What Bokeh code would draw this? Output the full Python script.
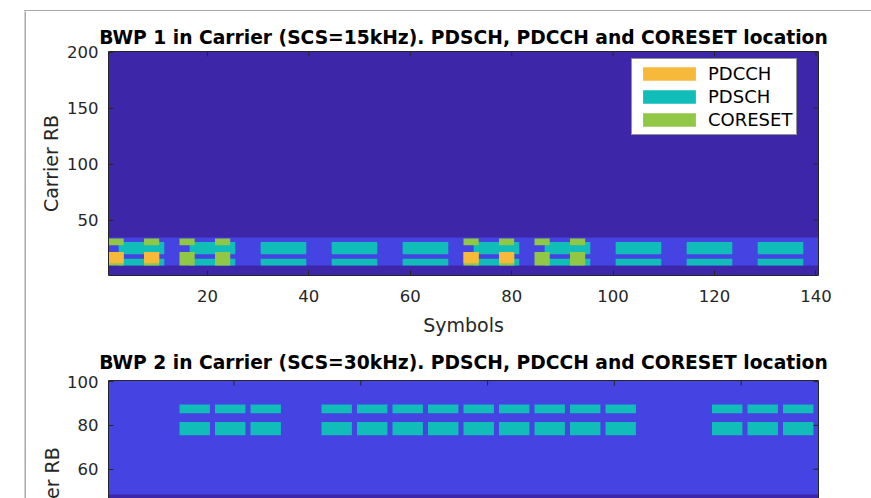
import math
from bokeh.plotting import figure
from bokeh.models import (LinearAxis, FixedTicker, Legend, LegendItem, Title,
                          Range1d, ColumnDataSource)
from bokeh.layouts import column, row
from bokeh.embed import file_html
from bokeh.resources import INLINE

# ---------------- data ----------------
symbols_per_slot = 14
n_slots_1 = 10            # BWP 1, SCS 15 kHz
n_slots_2 = 20            # BWP 2, SCS 30 kHz
carrier_nrb_1 = 200
carrier_nrb_2 = 100

bwp1_rbs = (10, 34)       # first / last carrier RB of BWP 1
bwp2_rbs = (49, 100)      # first / last carrier RB of BWP 2

pdsch1_slots = [0, 1, 2, 3, 4, 5, 6, 7, 8, 9]
pdsch1_symbols = [(2, 10)]
pdsch1_rbs = [(10, 15), (20, 30)]

coreset1_slots = [0, 1, 5, 6]
coreset1_symbols = [(0, 2), (7, 9)]
coreset1_rbs = [(10, 21), (28, 33)]

pdcch1_slots = [0, 5]
pdcch1_symbols = [(0, 2), (7, 9)]
pdcch1_rbs = [(12, 21)]

pdsch2_slots = [2, 3, 4, 6, 7, 8, 9, 10, 11, 12, 13, 14, 17, 18, 19]
pdsch2_symbols = [(0, 11)]
pdsch2_rbs = [(76, 81), (86, 89)]

x_ticks_1 = [20, 40, 60, 80, 100, 120, 140]
y_ticks_1 = [50, 100, 150, 200]
x_ticks_2 = [50, 100, 150, 200, 250]
y_ticks_2 = [60, 80, 100]

title_1 = "BWP 1 in Carrier (SCS=15kHz). PDSCH, PDCCH and CORESET location"
title_2 = "BWP 2 in Carrier (SCS=30kHz). PDSCH, PDCCH and CORESET location"
x_label = "Symbols"
y_label = "Carrier RB"
legend_labels = ["PDCCH", "PDSCH", "CORESET"]

# ---------------- styles ----------------
FONT = "DejaVu Sans"
AX = "#262626"
FRAME_GRAY = "#a8a8a8"
C_CARRIER = "#3e26a8"
C_BWP = "#4543e2"
C_PDSCH = "#10bdb9"
C_CORESET = "#90c845"
C_PDCCH = "#f6b93a"
TICK_LEN = 5


def blocks(slots, sym_ranges, rb_ranges):
    d = dict(left=[], right=[], bottom=[], top=[])
    for k in slots:
        for s0, s1 in sym_ranges:
            for r0, r1 in rb_ranges:
                d["left"].append(k * symbols_per_slot + s0 + 0.5)
                d["right"].append(k * symbols_per_slot + s1 + 1.5)
                d["bottom"].append(r0 - 0.5)
                d["top"].append(r1 + 0.5)
    return ColumnDataSource(d)


def full(n_slots, rbs):
    return ColumnDataSource(dict(left=[0.5], right=[n_slots * symbols_per_slot + 0.5],
                                 bottom=[rbs[0] - 0.5], top=[rbs[1] + 0.5]))


def style_axis(ax, ticks):
    ax.ticker = FixedTicker(ticks=ticks)
    ax.major_tick_in = TICK_LEN
    ax.major_tick_out = 0
    ax.minor_tick_line_color = None
    ax.axis_line_color = AX
    ax.major_tick_line_color = AX
    ax.major_label_text_color = AX
    ax.major_label_text_font = FONT
    ax.major_label_text_font_size = "16.5px"
    ax.axis_label_text_font = FONT
    ax.axis_label_text_font_style = "normal"
    ax.axis_label_text_color = AX
    ax.axis_label_text_font_size = "19px"


def line_axis(ax):
    # plain box side: axis line only, tick marks are drawn as inward rays
    ax.ticker = FixedTicker(ticks=[])
    ax.major_tick_line_color = None
    ax.minor_tick_line_color = None
    ax.axis_line_color = AX
    ax.major_label_standoff = 0


def inner_ticks(p, xticks, yticks, x_end, y_end):
    p.ray(x=xticks, y=[y_end] * len(xticks), length=TICK_LEN, length_units="screen",
          angle=-math.pi / 2, line_color=AX, line_width=1)
    p.ray(x=[x_end] * len(yticks), y=yticks, length=TICK_LEN, length_units="screen",
          angle=math.pi, line_color=AX, line_width=1)


def style_title(p, standoff):
    p.title.text_font = FONT
    p.title.text_font_size = "18.7px"
    p.title.text_font_style = "bold"
    p.title.text_color = "#000000"
    p.title.align = "center"
    p.title.standoff = standoff


W = 845
# ---------------- figure 1 ----------------
n_sym_1 = n_slots_1 * symbols_per_slot
P1_H = 327
p1 = figure(width=W, height=P1_H, title=title_1,
            x_range=Range1d(0.5, n_sym_1 + 0.5), y_range=Range1d(0.5, carrier_nrb_1 + 0.5),
            output_backend="svg", toolbar_location=None,
            min_border_left=82, min_border_right=W - 82 - 710, min_border_top=40, min_border_bottom=57)
p1.outline_line_color = None
p1.grid.visible = False
style_title(p1, 7)
style_axis(p1.xaxis[0], x_ticks_1)
style_axis(p1.yaxis[0], y_ticks_1)
p1.xaxis[0].axis_label = x_label
p1.yaxis[0].axis_label = y_label
p1.xaxis[0].major_label_standoff = 14
p1.xaxis[0].axis_label_standoff = 9
p1.yaxis[0].major_label_standoff = 10
p1.yaxis[0].axis_label_standoff = 2
top1 = LinearAxis()
right1 = LinearAxis()
line_axis(top1)
line_axis(right1)
p1.add_layout(top1, "above")
p1.add_layout(right1, "right")

p1.quad(source=full(n_slots_1, (1, carrier_nrb_1)), left="left", right="right", bottom="bottom", top="top",
        fill_color=C_CARRIER, line_color=None)
p1.quad(source=full(n_slots_1, bwp1_rbs), left="left", right="right", bottom="bottom", top="top",
        fill_color=C_BWP, line_color=None)
r_pdsch1 = p1.quad(source=blocks(pdsch1_slots, pdsch1_symbols, pdsch1_rbs), left="left", right="right",
                   bottom="bottom", top="top", fill_color=C_PDSCH, line_color=None)
r_cor1 = p1.quad(source=blocks(coreset1_slots, coreset1_symbols, coreset1_rbs), left="left", right="right",
                 bottom="bottom", top="top", fill_color=C_CORESET, line_color=None)
r_pdcch1 = p1.quad(source=blocks(pdcch1_slots, pdcch1_symbols, pdcch1_rbs), left="left", right="right",
                   bottom="bottom", top="top", fill_color=C_PDCCH, line_color=None)
inner_ticks(p1, x_ticks_1, y_ticks_1, n_sym_1 + 0.5, carrier_nrb_1 + 0.5)

legend = Legend(items=[LegendItem(label=legend_labels[0], renderers=[r_pdcch1]),
                       LegendItem(label=legend_labels[1], renderers=[r_pdsch1]),
                       LegendItem(label=legend_labels[2], renderers=[r_cor1])],
                location=(523, 140))
legend.glyph_width = 66
legend.glyph_height = 17
legend.label_height = 17
legend.label_standoff = 6
legend.spacing = 2
legend.padding = 4
legend.margin = 0
legend.label_text_font = FONT
legend.label_text_font_size = "18px"
legend.label_text_color = "#000000"
legend.border_line_color = AX
legend.border_line_width = 1
legend.background_fill_color = "white"
legend.background_fill_alpha = 1.0
p1.add_layout(legend)

# ---------------- figure 2 (cut off at the bottom of the window) ----------------
n_sym_2 = n_slots_2 * symbols_per_slot
P2_H = 160
P2_TOP = 42
px_y = 2.19                                   # pixels per RB in the second axes
p2_y0 = carrier_nrb_2 + 0.5 - (P2_H - P2_TOP) / px_y
p2 = figure(width=W, height=P2_H, title=title_2,
            x_range=Range1d(0.5, n_sym_2 + 0.5), y_range=Range1d(p2_y0, carrier_nrb_2 + 0.5),
            x_axis_location="above",
            output_backend="svg", toolbar_location=None,
            min_border_left=82, min_border_right=W - 82 - 710, min_border_top=P2_TOP, min_border_bottom=0)
p2.outline_line_color = None
p2.grid.visible = False
style_title(p2, 15)
line_axis(p2.xaxis[0])
style_axis(p2.yaxis[0], y_ticks_2)
p2.yaxis[0].major_label_standoff = 10
right2 = LinearAxis()
line_axis(right2)
p2.add_layout(right2, "right")

p2.quad(source=full(n_slots_2, (1, carrier_nrb_2)), left="left", right="right", bottom="bottom", top="top",
        fill_color=C_CARRIER, line_color=None)
p2.quad(source=full(n_slots_2, bwp2_rbs), left="left", right="right", bottom="bottom", top="top",
        fill_color=C_BWP, line_color=None)
p2.quad(source=blocks(pdsch2_slots, pdsch2_symbols, pdsch2_rbs), left="left", right="right",
        bottom="bottom", top="top", fill_color=C_PDSCH, line_color=None)
inner_ticks(p2, x_ticks_2, y_ticks_2, n_sym_2 + 0.5, carrier_nrb_2 + 0.5)

# y label of the second axes: it is centred on the full-height axes, whose
# lower part lies below the window, so it starts below the visible frame.
p2.add_layout(Title(text=y_label, align="left", offset=-46, standoff=4,
                    text_font=FONT, text_font_size="19px", text_font_style="normal",
                    text_color=AX), "left")

# thin grey edge of the figure window on the left
edge = figure(width=2, height=P1_H + P2_H, output_backend="svg", toolbar_location=None,
              x_axis_location=None, y_axis_location=None, min_border=0,
              border_fill_color=FRAME_GRAY, background_fill_color=FRAME_GRAY,
              outline_line_color=None)
edge.grid.visible = False

layout = row(edge, column(p1, p2), margin=(10, 0, 0, 24),
             styles={"border-top": "1px solid " + FRAME_GRAY})

open("out.html", "w").write(file_html(layout, INLINE))
